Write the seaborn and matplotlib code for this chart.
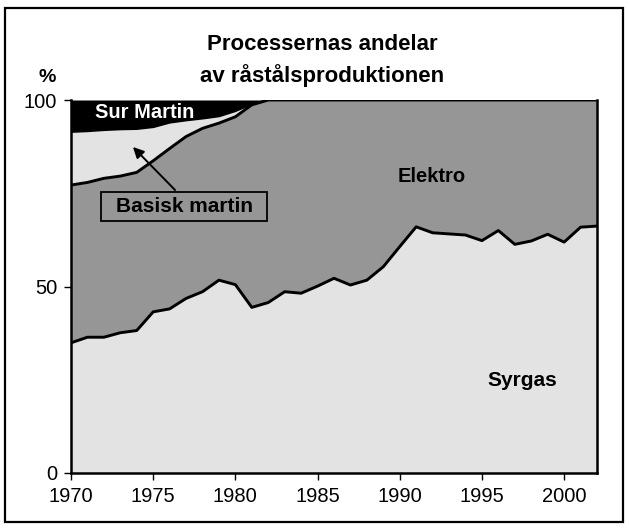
import matplotlib
matplotlib.use("Agg")
import matplotlib.pyplot as plt
import matplotlib.patches as mpatches
import numpy as np
import pandas as pd
import seaborn as sns

# data (percent of crude steel production)
years = list(range(1970, 2003))
syrgas = [34.9, 36.4, 36.4, 37.6, 38.2, 43.2, 44.0, 46.8, 48.6, 51.7, 50.5,
          44.4, 45.7, 48.6, 48.2, 50.1, 52.2, 50.4, 51.7, 55.3, 60.7, 66.0,
          64.4, 64.1, 63.8, 62.3, 65.0, 61.3, 62.2, 64.0, 61.9, 65.9, 66.2]
# cumulative top of Elektro (syrgas + elektro), 100 from 1982
elektro_top = [77.2, 77.9, 79.0, 79.6, 80.6, 83.7, 87.0, 90.2, 92.4, 93.8,
               95.5, 98.7] + [100.0] * 21
# cumulative top of Basisk martin (bottom of Sur Martin)
basisk_top = [91.3, 91.5, 91.8, 92.0, 92.1, 92.6, 93.8, 94.4, 94.9, 95.5,
              96.9, 98.8] + [100.0] * 21

df = pd.DataFrame({"year": years, "Syrgas": syrgas})
df["Elektro"] = np.array(elektro_top) - df["Syrgas"]
df["Basisk martin"] = np.array(basisk_top) - np.array(elektro_top)
df["Sur Martin"] = 100 - np.array(basisk_top)

W, H = 629, 529
sns.set_style("white")
plt.rcParams["font.family"] = ["Liberation Sans", "DejaVu Sans"]
plt.rcParams["text.color"] = "black"
plt.rcParams["xtick.color"] = "black"
plt.rcParams["ytick.color"] = "black"

fig = plt.figure(figsize=(W / 100, H / 100), dpi=100)
ax = fig.add_axes([71 / W, 1 - 473 / H, (597 - 71) / W, (473 - 100) / H])

ax.stackplot(df["year"], df["Syrgas"], df["Elektro"], df["Basisk martin"], df["Sur Martin"],
             colors=["#e3e3e3", "#969696", "#e3e3e3", "#000000"], linewidth=0)

top_e = df["Syrgas"] + df["Elektro"]
sns.lineplot(x=df["year"], y=df["Syrgas"], color="black", lw=2.1, ax=ax)
sns.lineplot(x=df["year"], y=top_e, color="black", lw=2.1, ax=ax)

ax.set_xlim(1970, 2002)
ax.set_ylim(0, 100)
ax.set_xticks(range(1970, 2001, 5))
ax.set_yticks([0, 50, 100])
ax.set_xlabel("")
ax.set_ylabel("")
ax.tick_params(axis="both", direction="out", length=5, width=1, color="black",
               labelcolor="black", labelsize=14.5, pad=5, bottom=True, left=True)
for side in ["left", "bottom", "right"]:
    ax.spines[side].set_color("black")
    ax.spines[side].set_linewidth(1.8)
ax.spines["top"].set_visible(False)

# titles and labels
fig.text(322 / W, 1 - 45 / H, "Processernas andelar", ha="center", va="center",
         fontsize=16, fontweight="bold")
fig.text(322 / W, 1 - 76 / H, "av råstålsproduktionen", ha="center", va="center",
         fontsize=16, fontweight="bold")
fig.text(47 / W, 1 - 77 / H, "%", ha="center", va="center", fontsize=14, fontweight="bold")

fig.text(145 / W, 1 - 113 / H, "Sur Martin", ha="center", va="center",
         fontsize=14.5, fontweight="bold", color="white")
fig.text(432 / W, 1 - 177 / H, "Elektro", ha="center", va="center",
         fontsize=14.5, fontweight="bold")
fig.text(522 / W, 1 - 380 / H, "Syrgas", ha="center", va="center",
         fontsize=15, fontweight="bold")

# Basisk martin callout
fig.patches.append(mpatches.Rectangle((101 / W, 1 - 221 / H), 166 / W, 29 / H,
                                      transform=fig.transFigure, facecolor="none",
                                      edgecolor="black", lw=1.3))
fig.text(184 / W, 1 - 206.5 / H, "Basisk martin", ha="center", va="center",
         fontsize=15, fontweight="bold")
ax.annotate("", xy=(131 / W, 1 - 145 / H), xycoords="figure fraction",
            xytext=(177 / W, 1 - 192 / H), textcoords="figure fraction",
            arrowprops=dict(arrowstyle="-|>", color="black", lw=1.4, mutation_scale=16))

# outer frame
fig.patches.append(mpatches.Rectangle((5 / W, 1 - 522 / H), 618 / W, 514 / H,
                                      transform=fig.transFigure, facecolor="none",
                                      edgecolor="black", lw=1.6))

fig.savefig("out.png", dpi=100)
